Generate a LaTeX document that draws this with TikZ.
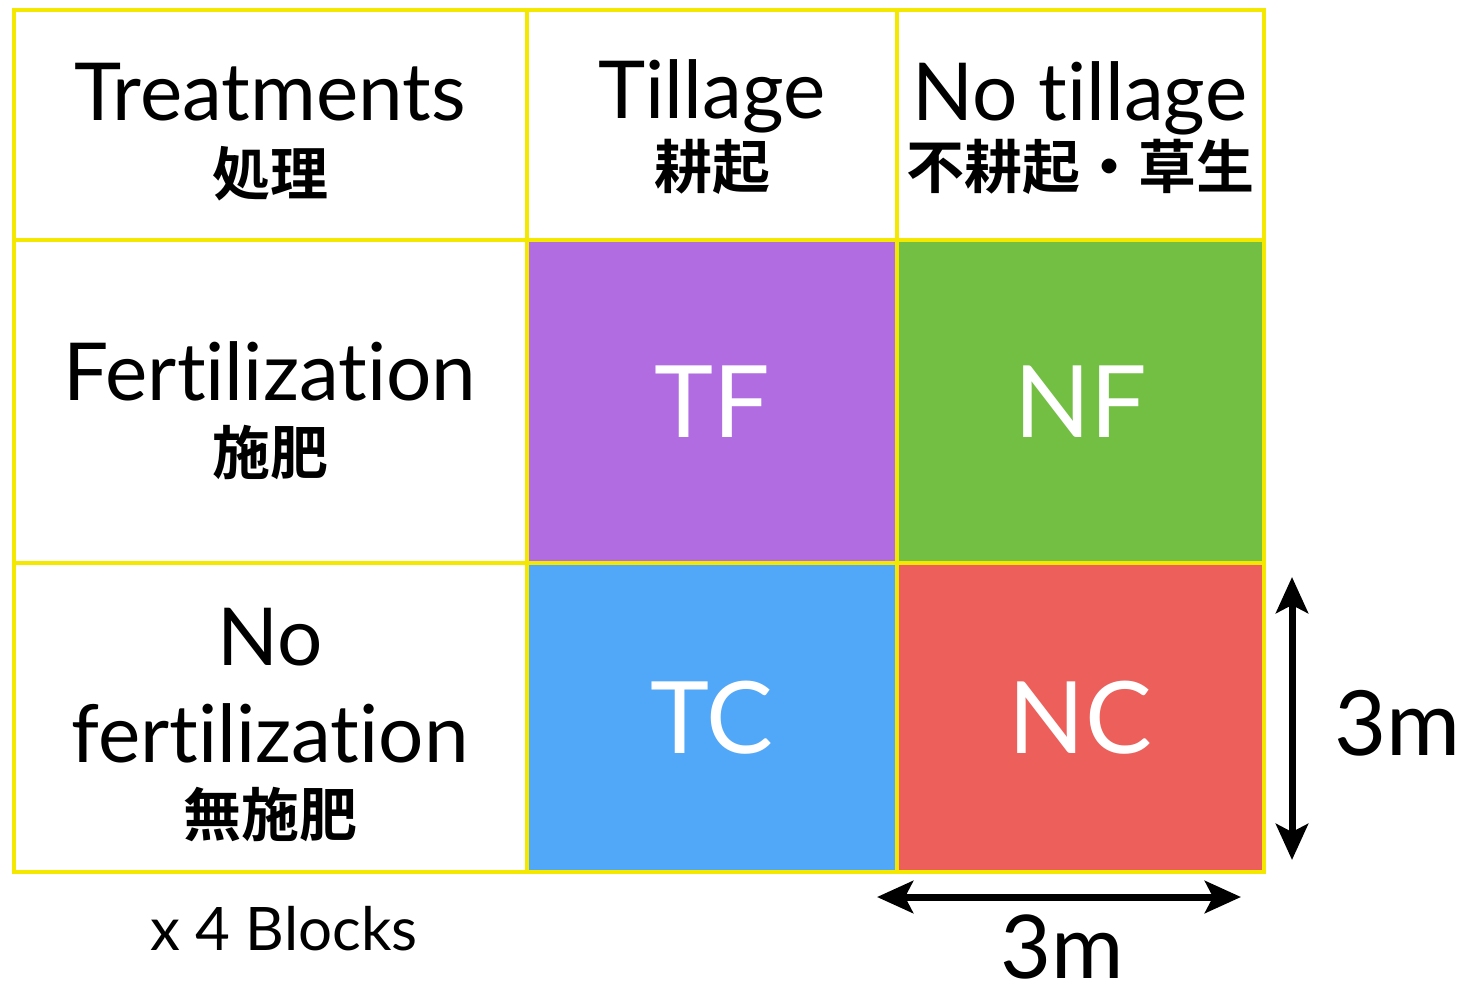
\documentclass[tikz,border=0pt]{standalone}
\usepackage{fontspec}
\setmainfont[Ligatures=NoCommon]{Lato}
\newfontfamily\jpfont{Noto Sans CJK JP Bold}
\usetikzlibrary{arrows.meta}
\definecolor{gridyellow}{RGB}{245,232,0}
\definecolor{cpurple}{RGB}{176,108,224}
\definecolor{cgreen}{RGB}{114,191,68}
\definecolor{cblue}{RGB}{82,168,248}
\definecolor{cred}{RGB}{236,95,90}
\tikzset{
  cell/.style={draw=gridyellow, line width=4pt, inner sep=0pt, outer sep=0pt, anchor=north west},
  big/.style={font=\fontsize{80}{90}\selectfont, anchor=base, inner sep=0pt},
  jp/.style={font=\jpfont\fontsize{58}{60}\selectfont, anchor=base, inner sep=0pt},
  plot/.style={font=\fontsize{100}{100}\selectfont, text=white, inner sep=0pt},
  dim/.style={line width=7pt, {Stealth[length=36pt,width=32pt,inset=8pt]}-{Stealth[length=36pt,width=32pt,inset=8pt]}},
}
\begin{document}
\begin{tikzpicture}[x=1pt,y=-1pt]
\useasboundingbox (0,0) rectangle (1466,996);
% cells
\node[cell, minimum width=513pt, minimum height=230pt] (h0) at (14,10) {};
\node[cell, minimum width=370pt, minimum height=230pt] (h1) at (527,10) {};
\node[cell, minimum width=367pt, minimum height=230pt] (h2) at (897,10) {};
\node[cell, minimum width=513pt, minimum height=323pt] (r1) at (14,240) {};
\node[cell, fill=cpurple, minimum width=370pt, minimum height=323pt] (tf) at (527,240) {};
\node[cell, fill=cgreen, minimum width=367pt, minimum height=323pt] (nf) at (897,240) {};
\node[cell, minimum width=513pt, minimum height=309pt] (r2) at (14,563) {};
\node[cell, fill=cblue, minimum width=370pt, minimum height=309pt] (tc) at (527,563) {};
\node[cell, fill=cred, minimum width=367pt, minimum height=309pt] (nc) at (897,563) {};
% header texts
\node[big] (t0) at (270,120) {Treatments};
\node[jp] (j0) at (270,195) {処理};
\node[big] (t1) at (712,118) {Tillage};
\node[jp] (j1) at (712,188) {耕起};
\node[big] (t2) at (1080,120) {No tillage};
\node[jp] (j2) at (1080,188) {不耕起・草生};
\node[big] (t3) at (270,400) {Fertilization};
\node[jp] (j3) at (270,474) {施肥};
\node[big] (t4) at (270,665) {No};
\node[big] (t5) at (270,762) {fertilization};
\node[jp] (j5) at (270,836) {無施肥};
% plot labels
\node[plot] at (tf.center) {TF};
\node[plot] at (nf.center) {NF};
\node[plot] at (tc.center) {TC};
\node[plot] at (nc.center) {NC};
% blocks
\node[font=\fontsize{60}{60}\selectfont, anchor=base, inner sep=0pt] (blk) at (284,950) {x 4 Blocks};
% dimension arrows
\coordinate (vt) at (1292,577);
\coordinate (vb) at (1292,860);
\coordinate (hl) at (877,897);
\coordinate (hr) at (1241,897);
\draw[dim] (vt) -- (vb);
\draw[dim] (hl) -- (hr);
\node[font=\fontsize{90}{90}\selectfont, anchor=base west, inner sep=0pt] (m1) at (1334,755) {3m};
\node[font=\fontsize{88}{88}\selectfont, anchor=base, inner sep=0pt, text depth=0pt] (m2) at (1062,978) {3m};
\end{tikzpicture}
\end{document}
